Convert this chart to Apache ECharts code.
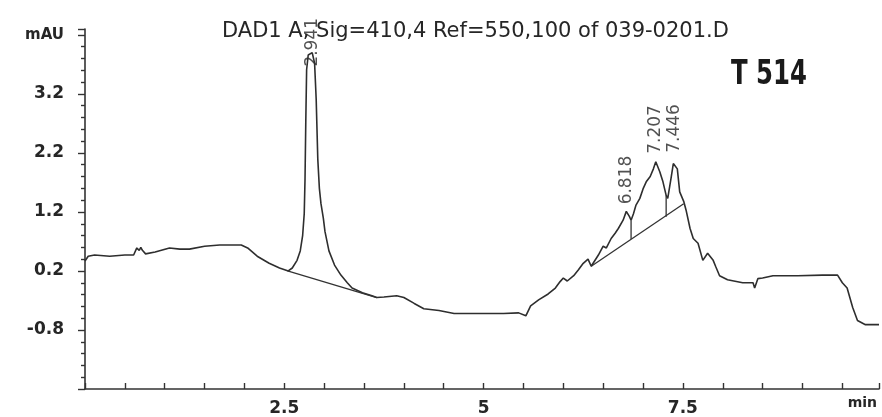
<!DOCTYPE html>
<html>
<head>
<meta charset="utf-8">
<script src="https://cdn.jsdelivr.net/npm/echarts@6/dist/echarts.min.js"></script>
<style>
html, body { margin: 0; padding: 0; background: #fff; }
#chart { width: 882px; height: 417px; }
</style>
</head>
<body>
<div id="chart"></div>
<script>
// signal trace: retention time (min) / absorbance (mAU)
var traceTime = [0.00, 0.04, 0.12, 0.31, 0.50, 0.61, 0.65, 0.68, 0.70, 0.72, 0.76, 0.88, 1.06, 1.19, 1.31, 1.50, 1.69, 1.96,
	2.04, 2.16, 2.31, 2.44, 2.55, 2.60, 2.66, 2.70, 2.73, 2.75, 2.76, 2.77, 2.78, 2.80, 2.85, 2.88, 2.90, 2.92, 2.94, 2.96, 2.99,
	3.01, 3.06, 3.13, 3.21, 3.29, 3.35, 3.48, 3.60, 3.66, 3.75, 3.91, 4.00, 4.13, 4.25, 4.44, 4.63, 4.94, 5.25, 5.44, 5.53,
	5.59, 5.69, 5.81, 5.90, 5.96, 6.00, 6.05, 6.13, 6.19, 6.25, 6.31, 6.35, 6.44, 6.50, 6.54, 6.60, 6.65, 6.69, 6.71, 6.75,
	6.79, 6.83, 6.85, 6.88, 6.91, 6.96, 7.00, 7.04, 7.09, 7.13, 7.16, 7.21, 7.25, 7.29, 7.31, 7.35, 7.38, 7.40, 7.43, 7.46,
	7.51, 7.54, 7.59, 7.63, 7.69, 7.75, 7.81, 7.88, 7.91, 7.96, 8.06, 8.25, 8.38, 8.40, 8.44, 8.50, 8.63, 8.94, 9.25, 9.44,
	9.50, 9.56, 9.63, 9.69, 9.79, 9.96];
var traceMau = [0.37, 0.45, 0.47, 0.45, 0.47, 0.47, 0.59, 0.55, 0.60, 0.55, 0.49, 0.52, 0.59, 0.57, 0.57, 0.62, 0.64, 0.64,
	0.59, 0.45, 0.33, 0.25, 0.20, 0.25, 0.38, 0.54, 0.80, 1.17, 1.76, 2.77, 3.61, 3.86, 3.90, 3.72, 3.11, 2.10, 1.60, 1.34, 1.09,
	0.87, 0.54, 0.30, 0.13, 0.00, -0.09, -0.17, -0.22, -0.25, -0.24, -0.22, -0.25, -0.35, -0.44, -0.47, -0.52, -0.52, -0.52, -0.51, -0.56,
	-0.39, -0.29, -0.19, -0.09, 0.02, 0.08, 0.03, 0.12, 0.22, 0.33, 0.40, 0.28, 0.47, 0.62, 0.59, 0.75, 0.84, 0.92, 0.89, 1.06,
	1.21, 1.12, 1.06, 1.17, 1.31, 1.43, 1.59, 1.71, 1.80, 1.93, 2.05, 1.88, 1.71, 1.48, 1.43, 1.76, 2.02, 2.05, 1.93, 1.54,
	1.38, 1.23, 0.92, 0.75, 0.67, 0.38, 0.50, 0.38, 0.28, 0.12, 0.05, 0.00, 0.00, -0.09, 0.07, 0.08, 0.12, 0.12, 0.13, 0.13,
	0.00, -0.09, -0.42, -0.64, -0.71, -0.71];

// integration baselines and drop lines [t0, v0, t1, v1]
var baseline1 = [2.54, 0.20, 3.66, -0.25];
var baseline2 = [6.35, 0.28, 7.51, 1.34];
var dropLine1 = [6.85, 1.06, 6.85, 0.74];
var dropLine2 = [7.29, 1.48, 7.29, 1.12];

// peak apexes and their retention time labels
var peakTime = [2.85, 6.79, 7.16, 7.40];
var peakMau = [3.90, 1.21, 2.05, 2.05];
var peakLabels = ['2.941', '6.818', '7.207', '7.446'];
var peakGap = [-14, 7, 8, 9];

var xTicks = ['2.5', '5', '7.5'];
var yTicks = ['-0.8', '0.2', '1.2', '2.2', '3.2'];

var chart = echarts.init(document.getElementById('chart'));

var trace = [];
for (var i = 0; i < traceTime.length; i++) {
	trace.push([traceTime[i], traceMau[i]]);
}

function segment(s){
	return {
		type: 'line',
		data: [[s[0], s[1]], [s[2], s[3]]],
		showSymbol: false,
		silent: true,
		lineStyle: {color: '#333333', width: 1.3}
	};
}

var peaks = [];
for (var j = 0; j < peakTime.length; j++) {
	peaks.push({
		value: [peakTime[j], peakMau[j]],
		name: peakLabels[j],
		label: {distance: peakGap[j]}
	});
}

var ink = '#262626';
var option = {
	backgroundColor: '#ffffff',
	animation: false,
	title: {
		text: 'DAD1 A, Sig=410,4 Ref=550,100 of 039-0201.D',
		left: 222,
		top: 21,
		padding: 0,
		textStyle: {fontFamily: 'DejaVu Sans', fontSize: 21, fontWeight: 'normal', color: ink}
	},
	graphic: [{
		type: 'text',
		left: 731,
		top: 59,
		scaleX: 0.82,
		style: {
			text: 'T 514',
			font: 'bold 33px "DejaVu Sans Condensed", "DejaVu Sans"',
			fill: '#1a1a1a'
		}
	}],
	grid: {left: 85, right: 0, top: 29, bottom: 25},
	xAxis: {
		type: 'value',
		min: 0,
		max: 9.96,
		interval: 2.5,
		name: 'min',
		nameLocation: 'end',
		nameGap: -2,
		nameTextStyle: {
			fontFamily: 'DejaVu Sans', fontSize: 14, fontWeight: 'bold', color: ink,
			align: 'right', verticalAlign: 'top', padding: [7, 0, 0, 0]
		},
		axisLine: {onZero: false, lineStyle: {color: '#333333', width: 1.6}},
		axisTick: {show: true, inside: true, length: 6, lineStyle: {color: '#333333', width: 1.4}},
		minorTick: {show: true, splitNumber: 5, length: 6, lineStyle: {color: '#333333', width: 1.4}},
		splitLine: {show: false},
		axisLabel: {
			margin: 11,
			fontFamily: 'DejaVu Sans', fontSize: 17, fontWeight: 'bold', color: ink,
			formatter: function(v){
				var s = String(Math.round(v * 10) / 10);
				return xTicks.indexOf(s) >= 0 ? s : '';
			}
		}
	},
	yAxis: {
		type: 'value',
		min: -1.8,
		max: 4.3,
		interval: 1,
		axisLine: {show: true, onZero: false, lineStyle: {color: '#333333', width: 1.6}},
		axisTick: {show: true, inside: false, length: 7, lineStyle: {color: '#333333', width: 1.4}},
		minorTick: {show: true, splitNumber: 5, length: 4, lineStyle: {color: '#333333', width: 1.4}},
		splitLine: {show: false},
		axisLabel: {
			margin: 21,
			fontFamily: 'DejaVu Sans', fontSize: 17, fontWeight: 'bold', color: ink,
			formatter: function(v){
				var s = (Math.round(v * 10) / 10).toFixed(1);
				if (s === '4.2') return '{u|mAU}';
				return yTicks.indexOf(s) >= 0 ? s : '';
			},
			rich: {u: {fontFamily: 'DejaVu Sans', fontSize: 15, fontWeight: 'bold', color: ink}}
		}
	},
	series: [{
		type: 'line',
		data: trace,
		showSymbol: false,
		silent: true,
		lineStyle: {color: '#2e2e2e', width: 1.6}
	},
	segment(baseline1),
	segment(baseline2),
	segment(dropLine1),
	segment(dropLine2),
	{
		type: 'scatter',
		data: peaks,
		symbolSize: 0,
		silent: true,
		label: {
			show: true,
			position: 'top',
			rotate: 90,
			align: 'left',
			verticalAlign: 'middle',
			formatter: '{b}',
			fontFamily: 'DejaVu Sans',
			fontSize: 17,
			color: ink
		}
	}]
};

chart.setOption(option);
</script>
</body>
</html>
